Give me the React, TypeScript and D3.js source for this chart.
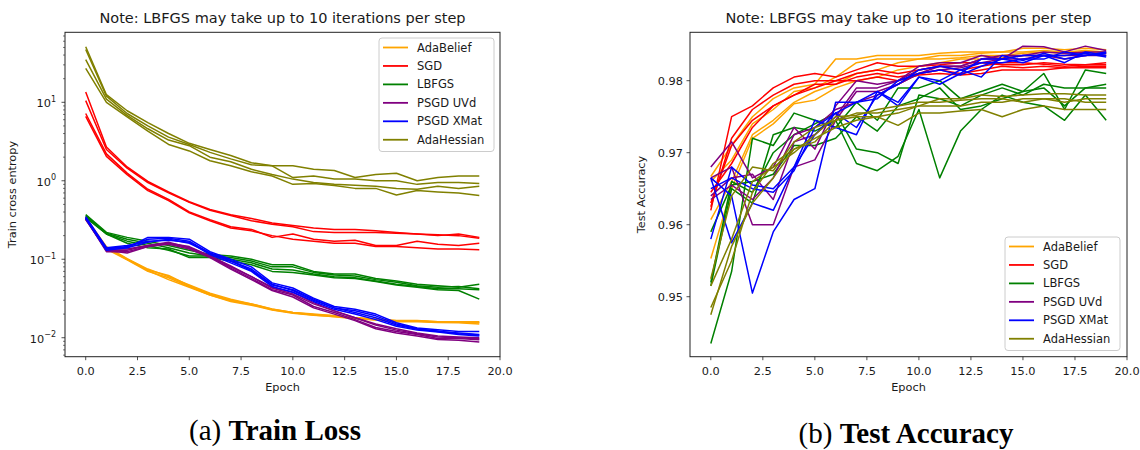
import React from "react";
import * as d3 from "d3";

const epochs = [0, 1, 2, 3, 4, 5, 6, 7, 8, 9, 10, 11, 12, 13, 14, 15, 16, 17, 18, 19];
const optimizers = ["AdaBelief", "SGD", "LBFGS", "PSGD UVd", "PSGD XMat", "AdaHessian"];
const colors = ["#ffa500", "#ff0000", "#008000", "#800080", "#0000ff", "#808000"];

// Train loss runs
const lossAdaBelief = [
  [0.33, 0.14, 0.1, 0.073, 0.062, 0.046, 0.036, 0.030, 0.027, 0.023, 0.021, 0.0197, 0.019, 0.018, 0.0173, 0.0165, 0.0165, 0.016, 0.016, 0.0158],
  [0.32, 0.135, 0.098, 0.07, 0.058, 0.045, 0.035, 0.029, 0.026, 0.0225, 0.0205, 0.0193, 0.0187, 0.0178, 0.017, 0.0162, 0.0163, 0.0158, 0.0157, 0.0155],
  [0.33, 0.14, 0.1, 0.072, 0.055, 0.044, 0.035, 0.0295, 0.0265, 0.0228, 0.0208, 0.0195, 0.0185, 0.0175, 0.0168, 0.016, 0.016, 0.0156, 0.0155, 0.015],
  [0.34, 0.145, 0.102, 0.075, 0.06, 0.047, 0.037, 0.031, 0.027, 0.0232, 0.021, 0.02, 0.019, 0.018, 0.0172, 0.0166, 0.0166, 0.016, 0.016, 0.016],
];
const lossSGD = [
  [13.5, 2.7, 1.5, 0.98, 0.72, 0.54, 0.43, 0.37, 0.33, 0.29, 0.27, 0.25, 0.24, 0.24, 0.23, 0.22, 0.21, 0.2, 0.21, 0.19],
  [10.5, 2.5, 1.45, 0.95, 0.7, 0.53, 0.42, 0.36, 0.31, 0.28, 0.26, 0.225, 0.22, 0.22, 0.22, 0.215, 0.21, 0.205, 0.2, 0.185],
  [7.2, 2.2, 1.25, 0.78, 0.58, 0.4, 0.32, 0.26, 0.24, 0.19, 0.21, 0.18, 0.17, 0.175, 0.15, 0.15, 0.17, 0.155, 0.15, 0.16],
  [6.6, 2.05, 1.2, 0.75, 0.56, 0.39, 0.31, 0.25, 0.23, 0.2, 0.18, 0.17, 0.16, 0.16, 0.145, 0.145, 0.14, 0.135, 0.135, 0.132],
];
const lossLBFGS = [
  [0.37, 0.22, 0.19, 0.17, 0.15, 0.13, 0.115, 0.11, 0.1, 0.085, 0.085, 0.07, 0.065, 0.065, 0.057, 0.053, 0.048, 0.046, 0.044, 0.048],
  [0.36, 0.215, 0.18, 0.16, 0.14, 0.12, 0.11, 0.105, 0.095, 0.08, 0.08, 0.068, 0.063, 0.061, 0.055, 0.051, 0.046, 0.044, 0.045, 0.042],
  [0.35, 0.21, 0.17, 0.15, 0.13, 0.11, 0.11, 0.1, 0.09, 0.075, 0.073, 0.065, 0.06, 0.058, 0.053, 0.048, 0.045, 0.042, 0.042, 0.041],
  [0.34, 0.21, 0.16, 0.14, 0.135, 0.105, 0.105, 0.095, 0.085, 0.07, 0.068, 0.063, 0.058, 0.057, 0.052, 0.047, 0.044, 0.041, 0.04, 0.031],
];
const lossUVd = [
  [0.33, 0.125, 0.125, 0.145, 0.16, 0.14, 0.108, 0.077, 0.057, 0.041, 0.035, 0.025, 0.021, 0.017, 0.0135, 0.012, 0.011, 0.0098, 0.0098, 0.0094],
  [0.32, 0.13, 0.13, 0.15, 0.16, 0.145, 0.11, 0.08, 0.06, 0.043, 0.036, 0.027, 0.022, 0.018, 0.0145, 0.0125, 0.0112, 0.0102, 0.01, 0.0097],
  [0.34, 0.13, 0.12, 0.145, 0.155, 0.135, 0.105, 0.075, 0.055, 0.04, 0.033, 0.024, 0.02, 0.0165, 0.013, 0.0115, 0.0105, 0.0095, 0.0093, 0.0088],
  [0.33, 0.135, 0.135, 0.15, 0.165, 0.14, 0.11, 0.082, 0.06, 0.044, 0.038, 0.028, 0.022, 0.018, 0.015, 0.013, 0.0115, 0.0105, 0.0102, 0.01],
];
const lossXMat = [
  [0.35, 0.14, 0.14, 0.19, 0.19, 0.18, 0.125, 0.1, 0.08, 0.05, 0.043, 0.032, 0.025, 0.023, 0.02, 0.0155, 0.0133, 0.0126, 0.012, 0.012],
  [0.34, 0.135, 0.145, 0.18, 0.185, 0.17, 0.12, 0.095, 0.075, 0.048, 0.04, 0.03, 0.024, 0.022, 0.019, 0.015, 0.013, 0.012, 0.0115, 0.011],
  [0.33, 0.14, 0.15, 0.17, 0.175, 0.165, 0.115, 0.09, 0.07, 0.045, 0.038, 0.029, 0.023, 0.02, 0.017, 0.014, 0.0125, 0.0118, 0.011, 0.0105],
  [0.33, 0.13, 0.14, 0.165, 0.18, 0.16, 0.12, 0.095, 0.072, 0.047, 0.041, 0.031, 0.024, 0.021, 0.018, 0.0145, 0.0128, 0.0122, 0.0112, 0.0108],
];
const lossAdaHessian = [
  [51, 12.5, 7.8, 5.5, 4.0, 3.0, 2.5, 2.1, 1.7, 1.55, 1.55, 1.4, 1.35, 1.1, 1.2, 1.25, 1.0, 1.1, 1.15, 1.15],
  [47, 12, 7.2, 5.0, 3.6, 2.9, 2.3, 1.9, 1.6, 1.55, 1.1, 1.15, 1.05, 1.05, 1.0, 1.0, 0.9, 0.95, 0.95, 0.92],
  [35, 11, 6.8, 4.6, 3.3, 2.8, 2.0, 1.75, 1.4, 1.2, 1.05, 0.95, 0.9, 0.88, 0.85, 0.8, 0.78, 0.85, 0.8, 0.85],
  [27, 10, 6.5, 4.3, 2.9, 2.4, 1.8, 1.55, 1.3, 1.15, 0.9, 0.92, 0.87, 0.8, 0.8, 0.66, 0.75, 0.72, 0.7, 0.65],
];

// Test accuracy runs
const accAdaBelief = [
  [0.9667, 0.971, 0.975, 0.9775, 0.979, 0.9795, 0.983, 0.983, 0.9835, 0.9835, 0.9835, 0.9838, 0.984, 0.984, 0.984, 0.9845, 0.9845, 0.9843, 0.9845, 0.9843],
  [0.966, 0.969, 0.974, 0.976, 0.9785, 0.979, 0.9805, 0.9825, 0.983, 0.983, 0.983, 0.9835, 0.9835, 0.9838, 0.984, 0.984, 0.9842, 0.984, 0.9842, 0.984],
  [0.9607, 0.966, 0.9725, 0.9745, 0.977, 0.9785, 0.9795, 0.981, 0.9815, 0.9825, 0.983, 0.983, 0.9832, 0.9835, 0.9835, 0.9838, 0.984, 0.9838, 0.984, 0.9838],
  [0.9553, 0.965, 0.972, 0.974, 0.9768, 0.9773, 0.979, 0.98, 0.9805, 0.9815, 0.982, 0.9825, 0.983, 0.983, 0.9832, 0.9835, 0.9835, 0.9835, 0.9838, 0.9835],
];
const accSGD = [
  [0.962, 0.975, 0.9765, 0.979, 0.9805, 0.981, 0.9805, 0.9815, 0.9825, 0.982, 0.982, 0.9822, 0.9825, 0.9825, 0.9822, 0.9822, 0.9825, 0.9823, 0.9822, 0.9825],
  [0.9625, 0.972, 0.976, 0.978, 0.9795, 0.98, 0.98, 0.981, 0.9815, 0.981, 0.9815, 0.982, 0.9815, 0.982, 0.9825, 0.9825, 0.9823, 0.982, 0.9822, 0.9822],
  [0.963, 0.971, 0.9745, 0.9765, 0.978, 0.9795, 0.9795, 0.9805, 0.981, 0.9805, 0.981, 0.9815, 0.981, 0.9815, 0.982, 0.9818, 0.982, 0.9818, 0.982, 0.982],
  [0.9645, 0.9685, 0.9735, 0.9765, 0.978, 0.979, 0.98, 0.98, 0.9805, 0.98, 0.9808, 0.981, 0.9808, 0.981, 0.9815, 0.9815, 0.9815, 0.9818, 0.9818, 0.9818],
];
const accLBFGS = [
  [0.9435, 0.9535, 0.972, 0.971, 0.9755, 0.9745, 0.9735, 0.977, 0.9745, 0.979, 0.979, 0.98, 0.9775, 0.9785, 0.9795, 0.9785, 0.981, 0.976, 0.9815, 0.981],
  [0.9515, 0.965, 0.963, 0.9725, 0.9735, 0.973, 0.9745, 0.9685, 0.9675, 0.9695, 0.976, 0.9665, 0.973, 0.976, 0.978, 0.977, 0.9765, 0.9745, 0.978, 0.9745],
  [0.952, 0.966, 0.9645, 0.97, 0.9725, 0.974, 0.9755, 0.9705, 0.97, 0.9685, 0.978, 0.9775, 0.9765, 0.978, 0.979, 0.978, 0.9795, 0.979, 0.979, 0.9795],
  [0.959, 0.9655, 0.966, 0.967, 0.971, 0.971, 0.972, 0.975, 0.973, 0.9765, 0.9775, 0.979, 0.976, 0.9765, 0.9775, 0.9785, 0.979, 0.9765, 0.979, 0.979],
];
const accUVd = [
  [0.968, 0.9715, 0.9665, 0.968, 0.9735, 0.9705, 0.9765, 0.98, 0.9795, 0.98, 0.982, 0.9825, 0.9825, 0.9835, 0.983, 0.9848, 0.9847, 0.984, 0.9848, 0.9842],
  [0.9665, 0.968, 0.96, 0.96, 0.968, 0.969, 0.9745, 0.9785, 0.9785, 0.9795, 0.981, 0.982, 0.982, 0.983, 0.9835, 0.9835, 0.984, 0.9838, 0.984, 0.984],
  [0.964, 0.9665, 0.967, 0.9635, 0.9715, 0.9725, 0.975, 0.979, 0.979, 0.98, 0.9815, 0.982, 0.982, 0.983, 0.983, 0.9835, 0.9835, 0.9835, 0.9835, 0.9838],
  [0.9635, 0.9655, 0.9635, 0.9665, 0.9725, 0.9735, 0.976, 0.977, 0.978, 0.9795, 0.981, 0.9815, 0.9818, 0.9825, 0.983, 0.983, 0.9835, 0.983, 0.9835, 0.9835],
];
const accXMat = [
  [0.9665, 0.964, 0.9505, 0.959, 0.9635, 0.965, 0.977, 0.977, 0.9785, 0.977, 0.9805, 0.98, 0.9815, 0.9805, 0.9835, 0.9828, 0.9838, 0.983, 0.9835, 0.9838],
  [0.9665, 0.9575, 0.963, 0.962, 0.968, 0.9745, 0.9735, 0.9725, 0.9785, 0.9765, 0.9805, 0.9795, 0.981, 0.983, 0.983, 0.9835, 0.9835, 0.9825, 0.984, 0.9835],
  [0.965, 0.9665, 0.965, 0.9645, 0.9675, 0.9735, 0.9755, 0.9735, 0.978, 0.9795, 0.9815, 0.982, 0.9815, 0.9825, 0.9825, 0.983, 0.983, 0.984, 0.9835, 0.984],
  [0.958, 0.968, 0.9655, 0.965, 0.968, 0.9725, 0.9755, 0.977, 0.9775, 0.98, 0.981, 0.9815, 0.9808, 0.982, 0.983, 0.9825, 0.9835, 0.9835, 0.9838, 0.9833],
];
const accAdaHessian = [
  [0.9525, 0.964, 0.968, 0.9675, 0.9715, 0.9735, 0.9745, 0.9755, 0.9755, 0.976, 0.9765, 0.9775, 0.9775, 0.978, 0.9778, 0.978, 0.9782, 0.9782, 0.978, 0.978],
  [0.9515, 0.958, 0.966, 0.968, 0.97, 0.9725, 0.975, 0.9752, 0.976, 0.9765, 0.977, 0.977, 0.9773, 0.9775, 0.9775, 0.977, 0.9775, 0.977, 0.9775, 0.9775],
  [0.9485, 0.955, 0.9645, 0.9685, 0.9705, 0.9715, 0.9745, 0.975, 0.975, 0.9738, 0.9755, 0.9755, 0.9758, 0.976, 0.975, 0.976, 0.9765, 0.976, 0.976, 0.976],
  [0.9475, 0.957, 0.963, 0.9665, 0.9705, 0.972, 0.9735, 0.9745, 0.975, 0.9755, 0.9765, 0.9765, 0.9765, 0.977, 0.977, 0.9775, 0.9775, 0.9775, 0.977, 0.977],
];

const lossRuns = [lossAdaBelief, lossSGD, lossLBFGS, lossUVd, lossXMat, lossAdaHessian];
const accRuns = [accAdaBelief, accSGD, accLBFGS, accUVd, accXMat, accAdaHessian];

const xTicks = [0, 2.5, 5, 7.5, 10, 12.5, 15, 17.5, 20];
const xTickLabels = ["0.0", "2.5", "5.0", "7.5", "10.0", "12.5", "15.0", "17.5", "20.0"];
const lossMajor = [0.01, 0.1, 1, 10];
const lossMajorExp = ["\u22122", "\u22121", "0", "1"];
const accTicks = [0.95, 0.96, 0.97, 0.98];
const accTickLabels = ["0.95", "0.96", "0.97", "0.98"];
const titleText = "Note: LBFGS may take up to 10 iterations per step";

const FONT = "DejaVu Sans";
const TXT = "#1a1a1a";
const FS = 11.3;

function Legend({ x, y }: { x: number; y: number }) {
  const w = 115;
  const h = 113.5;
  return (
    <g>
      <rect x={x} y={y} width={w} height={h} rx={3} fill="white" fillOpacity={0.8} stroke="#cccccc" strokeWidth={1} />
      {optimizers.map((name, i) => {
        const cy = y + 9.5 + i * 18.45;
        return (
          <g key={name}>
            <line x1={x + 4} x2={x + 29} y1={cy} y2={cy} stroke={colors[i]} strokeWidth={1.8} />
            <text x={x + 38} y={cy + 4} fontFamily={FONT} fontSize={11.5} fill={TXT}>{name}</text>
          </g>
        );
      })}
    </g>
  );
}

function Panel({ left, right, top, bottom, kind }: { left: number; right: number; top: number; bottom: number; kind: "loss" | "acc" }) {
  const x = d3.scaleLinear().domain([-1, 20]).range([left, right]);
  const isLoss = kind === "loss";
  const yLog = d3.scaleLog().domain([0.00573, 78]).range([bottom, top]);
  const yLin = d3.scaleLinear().domain([0.94167, 0.98672]).range([bottom, top]);
  const y = (v: number) => (isLoss ? yLog(v) : yLin(v));
  const line = d3.line<number>().x((_, i) => x(epochs[i])).y((v) => y(v));
  const runs = isLoss ? lossRuns : accRuns;
  const cx = (left + right) / 2;

  const minor: number[] = [];
  if (isLoss) {
    [0.001, 0.01, 0.1, 1, 10].forEach((d) => {
      [2, 3, 4, 5, 6, 7, 8, 9].forEach((k) => {
        const v = d * k;
        if (v > 0.00573 && v < 78) minor.push(v);
      });
    });
  }

  return (
    <g>
      <text x={cx} y={23} textAnchor="middle" fontFamily={FONT} fontSize={14.5} fill={TXT}>{titleText}</text>
      <defs>
        <clipPath id={`clip-${kind}`}>
          <rect x={left} y={top} width={right - left} height={bottom - top} />
        </clipPath>
      </defs>
      <g clipPath={`url(#clip-${kind})`}>
        {runs.map((group, gi) =>
          group.map((run, ri) => (
            <path key={`${gi}-${ri}`} d={line(run) || ""} fill="none" stroke={colors[gi]} strokeWidth={1.5} strokeLinejoin="round" />
          ))
        )}
      </g>
      <rect x={left} y={top} width={right - left} height={bottom - top} fill="none" stroke="#222" strokeWidth={1} />
      {xTicks.map((t, i) => (
        <g key={t}>
          <line x1={x(t)} x2={x(t)} y1={bottom} y2={bottom + 3.5} stroke="#222" strokeWidth={0.8} />
          <text x={x(t)} y={bottom + 18} textAnchor="middle" fontFamily={FONT} fontSize={FS} fill={TXT}>{xTickLabels[i]}</text>
        </g>
      ))}
      <text x={cx} y={391} textAnchor="middle" fontFamily={FONT} fontSize={FS} fill={TXT}>Epoch</text>
      {isLoss ? (
        <g>
          {minor.map((v) => (
            <line key={v} x1={left - 2} x2={left} y1={yLog(v)} y2={yLog(v)} stroke="#222" strokeWidth={0.6} />
          ))}
          {lossMajor.map((v, i) => (
            <g key={v}>
              <line x1={left - 3.5} x2={left} y1={yLog(v)} y2={yLog(v)} stroke="#222" strokeWidth={0.8} />
              <text x={left - 9} y={yLog(v) + 5} textAnchor="end" fontFamily={FONT} fontSize={FS} fill={TXT}>
                10<tspan dy={-5.5} fontSize={8}>{lossMajorExp[i]}</tspan>
              </text>
            </g>
          ))}
          <text transform={`translate(16,${(top + bottom) / 2}) rotate(-90)`} textAnchor="middle" fontFamily={FONT} fontSize={FS} fill={TXT}>Train cross entropy</text>
          <Legend x={379} y={38} />
        </g>
      ) : (
        <g>
          {accTicks.map((v, i) => (
            <g key={v}>
              <line x1={left - 3.5} x2={left} y1={yLin(v)} y2={yLin(v)} stroke="#222" strokeWidth={0.8} />
              <text x={left - 7} y={yLin(v) + 4} textAnchor="end" fontFamily={FONT} fontSize={FS} fill={TXT}>{accTickLabels[i]}</text>
            </g>
          ))}
          <text transform={`translate(645,${(top + bottom) / 2}) rotate(-90)`} textAnchor="middle" fontFamily={FONT} fontSize={FS} fill={TXT}>Test Accuracy</text>
          <Legend x={1005} y={237} />
        </g>
      )}
    </g>
  );
}

export default function App() {
  return (
    <svg width={1140} height={450} style={{ position: "absolute", left: 0, top: 0, background: "white" }}>
      <rect x={0} y={0} width={1140} height={450} fill="white" />
      <Panel left={65} right={500} top={32.3} bottom={356.7} kind="loss" />
      <Panel left={690} right={1127} top={32.3} bottom={356.7} kind="acc" />
      <text x={275} y={440} textAnchor="middle" fontFamily="Liberation Serif" fontSize={29} fill="#000">
        (a) <tspan fontWeight="bold">Train Loss</tspan>
      </text>
      <text x={906} y={443} textAnchor="middle" fontFamily="Liberation Serif" fontSize={29} fill="#000">
        (b) <tspan fontWeight="bold">Test Accuracy</tspan>
      </text>
    </svg>
  );
}
